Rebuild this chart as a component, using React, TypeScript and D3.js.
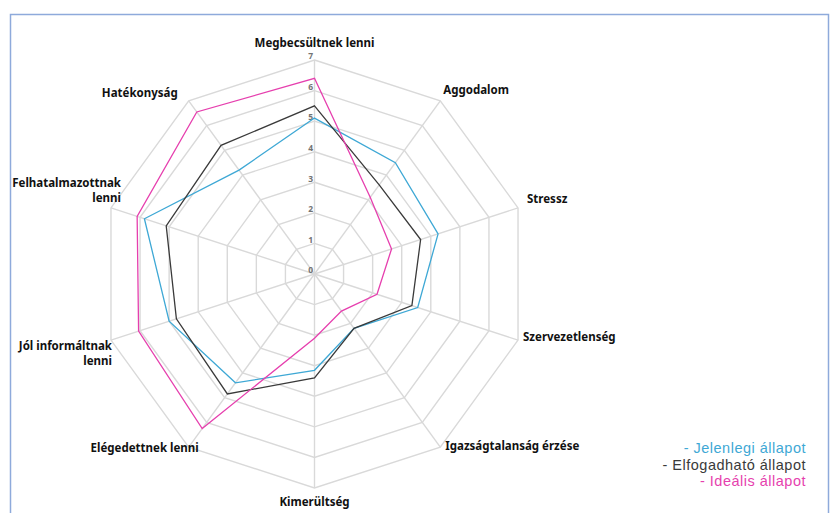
import React, { useRef, useEffect } from "react";
import * as d3 from "d3";

const categories = [
  "Megbecsültnek lenni",
  "Aggodalom",
  "Stressz",
  "Szervezetlenség",
  "Igazságtalanság érzése",
  "Kimerültség",
  "Elégedettnek lenni",
  "Jól informáltnak\nlenni",
  "Felhatalmazottnak\nlenni",
  "Hatékonyság",
];

const jelenlegi = [5.1, 4.5, 4.25, 3.55, 2.2, 3.15, 4.4, 5.0, 5.85, 4.2];
const elfogadhato = [5.5, 3.6, 3.65, 3.35, 2.2, 3.4, 4.85, 4.75, 5.1, 5.2];
const idealis = [6.4, 3.1, 2.65, 2.15, 1.5, 2.1, 6.25, 6.05, 6.1, 6.55];

const ticks = [0, 1, 2, 3, 4, 5, 6, 7];

const seriesNames = ["- Jelenlegi állapot", "- Elfogadható állapot", "- Ideális állapot"];
const seriesColors = ["#3ea8d5", "#3a3a3a", "#e63fae"];

// label nudges from each outer vertex (Excel puts them a bit unevenly)
const labelNudge: [number, number, string][] = [
  [0, -16, "middle"],
  [3, -10, "start"],
  [9, -8, "start"],
  [5, -2, "start"],
  [5, 0, "start"],
  [0, 15, "middle"],
  [10, 2, "end"],
  [1, 7, "end"],
  [10, -24, "end"],
  [-11, -7, "end"],
];

export default function App() {
  const svgRef = useRef<SVGSVGElement>(null);
  const width = 835;
  const height = 513;

  useEffect(() => {
    const svg = d3.select(svgRef.current);
    svg.selectAll("*").remove();

    const cx = 314.5;
    const cy = 274;
    const R = 214;
    const n = categories.length;
    const r = d3.scaleLinear().domain([0, 7]).range([0, R]);
    const ang = (i: number) => (i * 2 * Math.PI) / n;
    const px = (i: number, v: number) => cx + r(v) * Math.sin(ang(i));
    const py = (i: number, v: number) => cy - r(v) * Math.cos(ang(i));

    // frame
    svg
      .append("path")
      .attr("d", `M10.5,${height} L10.5,14.5 L828.5,14.5 L828.5,${height}`)
      .attr("fill", "none")
      .attr("stroke", "#8eaadb")
      .attr("stroke-width", 1.5);

    const g = svg.append("g");

    // grid rings
    ticks.slice(1).forEach((t) => {
      const pts = categories.map((_, i) => [px(i, t), py(i, t)]);
      g.append("path")
        .attr("d", "M" + pts.map((p) => p.join(",")).join("L") + "Z")
        .attr("fill", "none")
        .attr("stroke", "#d9d9d9")
        .attr("stroke-width", 1.4);
    });

    // spokes
    categories.forEach((_, i) => {
      g.append("line")
        .attr("x1", cx)
        .attr("y1", cy)
        .attr("x2", px(i, 7))
        .attr("y2", py(i, 7))
        .attr("stroke", "#d9d9d9")
        .attr("stroke-width", 1.4);
    });

    // tick labels
    ticks.forEach((t) => {
      g.append("text")
        .attr("x", cx - 1.5)
        .attr("y", cy - r(t) - 3)
        .attr("text-anchor", "end")
        .attr("dominant-baseline", "middle")
        .style("font-family", "'Noto Sans', sans-serif")
        .style("font-size", "8.5px")
        .style("font-weight", "700")
        .style("fill", "#737373")
        .text(t);
    });

    // series
    const line = d3
      .lineRadial<number>()
      .angle((_, i) => ang(i))
      .radius((d) => r(d))
      .curve(d3.curveLinearClosed);

    [jelenlegi, elfogadhato, idealis].forEach((vals, k) => {
      g.append("path")
        .attr("transform", `translate(${cx},${cy})`)
        .attr("d", line(vals))
        .attr("fill", "none")
        .attr("stroke", seriesColors[k])
        .attr("stroke-width", 1.3);
    });

    // category labels
    categories.forEach((c, i) => {
      const [dx, dy, anchor] = labelNudge[i];
      const lines = c.split("\n");
      const t = g
        .append("text")
        .attr("x", px(i, 7) + dx)
        .attr("y", py(i, 7) + dy)
        .attr("text-anchor", anchor)
        .attr("dominant-baseline", "middle")
        .style("font-family", "'Noto Sans', sans-serif")
        .style("font-size", "11.5px")
        .style("font-weight", "700")
        .style("fill", "#111");
      lines.forEach((l, j) => {
        t.append("tspan")
          .attr("x", px(i, 7) + dx)
          .attr("dy", j === 0 ? 0 : 15)
          .text(l);
      });
    });

    // legend
    seriesNames.forEach((s, k) => {
      svg
        .append("text")
        .attr("x", 806)
        .attr("y", 449 + k * 16.7)
        .attr("text-anchor", "end")
        .attr("dominant-baseline", "middle")
        .style("font-family", "'Liberation Sans', Arial, sans-serif")
        .style("font-size", "14.5px")
        .style("letter-spacing", "0.5px")
        .style("fill", seriesColors[k])
        .text(s);
    });
  }, []);

  return (
    <svg
      ref={svgRef}
      width={width}
      height={height}
      style={{ position: "absolute", left: 0, top: 0, background: "#fff" }}
    ></svg>
  );
}
